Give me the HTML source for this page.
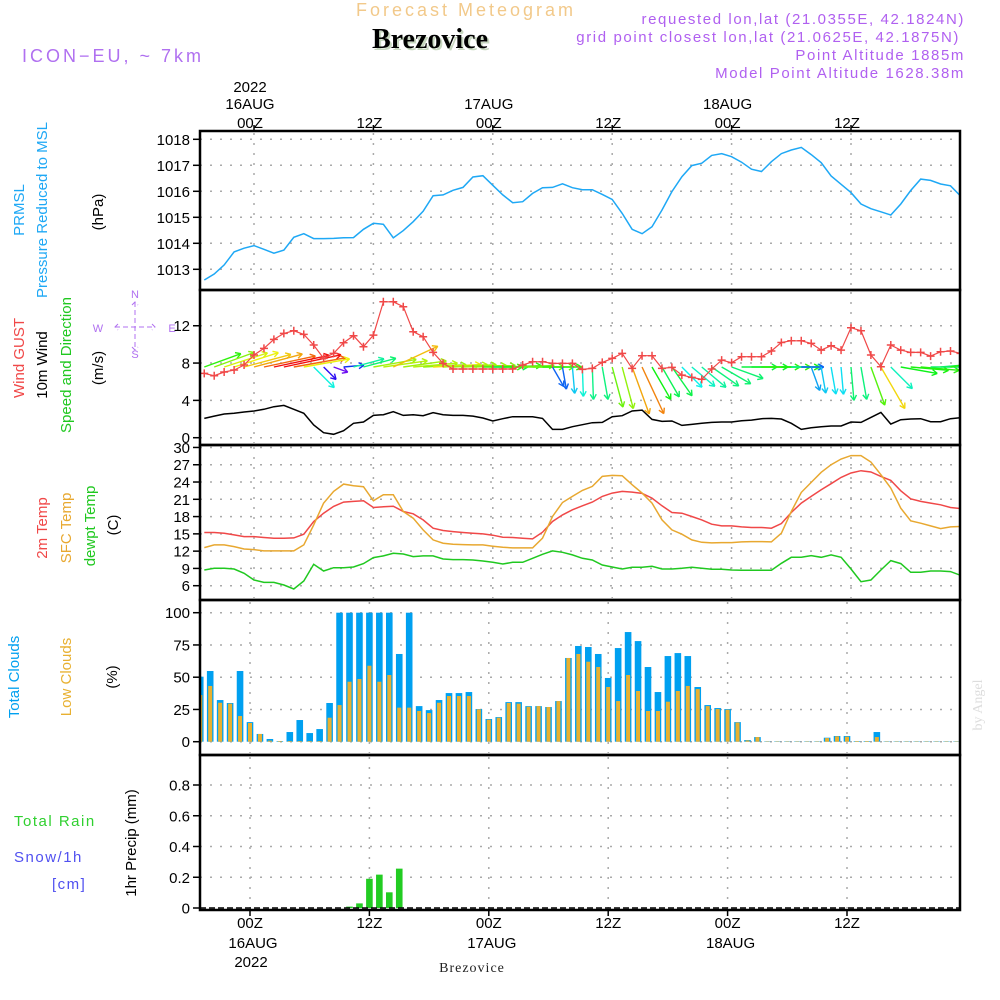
<!DOCTYPE html>
<html><head><meta charset="utf-8"><style>
html,body{margin:0;padding:0;background:#fff;}
svg{display:block;font-family:"Liberation Sans",sans-serif;}
</style></head><body>
<svg id="chart" width="1000" height="1000" viewBox="0 0 1000 1000" xmlns="http://www.w3.org/2000/svg">
<defs>
<clipPath id="c1"><rect x="200" y="131" width="760" height="159"/></clipPath>
<clipPath id="c2"><rect x="200" y="290" width="760" height="155"/></clipPath>
<clipPath id="c3"><rect x="200" y="445" width="760" height="155"/></clipPath>
<clipPath id="c4"><rect x="200" y="600" width="760" height="155"/></clipPath>
<clipPath id="c5"><rect x="200" y="755" width="760" height="155"/></clipPath>
</defs>
<g>
<text x="466" y="16" font-size="18" fill="#f2c98a" text-anchor="middle" letter-spacing="3">Forecast Meteogram</text>
<text x="432" y="50" font-size="28" font-weight="bold" font-family="Liberation Serif,serif" fill="#c8d8c0" text-anchor="middle">Brezovice</text>
<text x="430" y="48" font-size="28" font-weight="bold" font-family="Liberation Serif,serif" fill="#000" text-anchor="middle">Brezovice</text>
<text x="22" y="62" font-size="18" fill="#b070f0" letter-spacing="3">ICON−EU, ~ 7km</text>
<g font-size="15" fill="#b060f0" text-anchor="end" letter-spacing="1.6">
<text x="965" y="24">requested lon,lat (21.0355E, 42.1824N)</text>
<text x="960" y="42">grid point closest lon,lat (21.0625E, 42.1875N)</text>
<text x="965" y="60">Point Altitude 1885m</text>
<text x="965" y="78">Model Point Altitude 1628.38m</text>
</g>
</g>
<g id="grid"></g>
<g id="marks"></g>
<g id="frames"></g>
<g id="labels"></g>
</svg>
<script>
// ---- data (hourly from h=-5 to h=71, h=0 is 00Z 16AUG) ----
const hourStart = -5;
const pressure = [1012.59,1012.82,1013.17,1013.67,1013.81,1013.91,1013.77,1013.62,1013.74,1014.23,1014.37,1014.18,1014.18,1014.19,1014.21,1014.22,1014.54,1014.77,1014.73,1014.21,1014.49,1014.83,1015.23,1015.83,1015.86,1016.04,1016.15,1016.55,1016.60,1016.23,1015.86,1015.56,1015.60,1015.92,1016.14,1016.15,1016.29,1016.14,1016.06,1016.06,1015.88,1015.69,1015.15,1014.54,1014.37,1014.64,1015.28,1015.99,1016.56,1016.99,1017.08,1017.38,1017.45,1017.33,1017.12,1016.85,1016.76,1017.14,1017.45,1017.59,1017.69,1017.41,1017.10,1016.59,1016.27,1015.95,1015.51,1015.33,1015.21,1015.09,1015.51,1016.03,1016.47,1016.42,1016.28,1016.21,1015.82];
const wind10m = [2.07,2.32,2.54,2.61,2.75,2.86,3.04,3.32,3.46,3.04,2.61,1.36,0.54,0.36,0.75,1.54,1.68,2.39,2.46,2.79,2.39,2.46,2.36,2.68,2.46,2.39,2.39,2.32,2.11,1.79,2.04,2.25,2.25,2.25,2.07,0.89,0.89,1.18,1.39,1.61,1.64,2.25,2.36,2.86,2.96,1.96,1.75,1.79,1.32,1.43,1.54,1.64,1.68,1.68,1.82,1.89,2.04,2.07,2.0,1.54,0.89,1.07,1.18,1.25,1.25,1.68,1.64,2.18,2.71,1.46,1.93,2.0,2.04,1.71,1.71,2.04,2.14];
const windGust = [6.89,6.64,7.04,7.25,7.79,8.86,9.57,10.54,11.18,11.46,11.07,9.93,8.5,9.04,10.18,10.93,9.75,11.0,14.57,14.57,14.04,11.36,10.82,9.14,7.96,7.36,7.36,7.36,7.36,7.36,7.36,7.36,7.79,8.14,8.14,7.96,7.96,7.96,7.32,7.43,8.07,8.5,9.04,7.43,8.79,8.79,7.43,7.54,6.71,6.46,6.25,7.36,8.32,8.04,8.68,8.68,8.68,9.29,10.21,10.39,10.39,10.11,9.39,9.86,9.39,11.79,11.46,8.86,7.61,9.93,9.39,9.14,9.14,8.75,9.21,9.29,9.04];
const windDir = [20,20,18,18,15,15,12,12,12,10,10,-45,-45,-20,5,15,15,10,8,25,8,5,3,3,3,3,2,2,0,0,2,2,0,0,0,-60,-80,-85,-88,-88,-80,-75,-75,-70,-65,-60,-60,-55,-45,-40,-40,-35,-30,-20,0,0,0,0,0,0,0,-70,-80,-80,-85,-85,-80,-70,-60,-45,-10,-5,-5,0,5,10,15];
const temp2m = [15.23,15.23,15.11,14.82,14.53,14.53,14.36,14.24,14.24,14.3,14.94,17.14,18.59,19.76,20.51,20.63,20.74,19.58,19.7,19.81,18.88,18.48,17.43,15.98,15.58,15.4,15.23,15.11,15.0,14.76,14.42,14.36,14.24,14.13,15.29,17.14,18.3,19.17,19.87,20.51,21.5,22.08,22.37,22.25,22.02,21.21,19.87,18.71,18.59,18.01,17.43,16.68,16.39,16.39,16.21,16.1,16.1,15.98,16.8,18.71,20.34,21.5,22.66,23.7,24.8,25.56,25.97,25.74,24.98,24.28,22.48,21.09,20.63,20.34,20.05,19.58,19.41];
const tempSfc = [12.62,13.08,13.08,12.79,12.38,12.27,12.04,12.04,12.04,12.04,13.08,16.56,20.34,22.37,23.64,23.35,23.18,20.74,21.79,21.79,18.88,17.72,15.69,13.95,13.37,13.2,13.14,13.08,13.08,12.85,12.67,12.56,12.56,12.56,14.24,18.01,20.45,21.5,22.54,23.24,24.98,25.15,25.09,23.53,22.08,20.34,17.43,15.69,14.94,13.95,13.54,13.43,13.49,13.49,13.6,13.66,13.66,13.6,15.11,18.88,22.19,23.93,25.68,27.01,28.0,28.58,28.58,27.47,25.27,22.95,19.46,17.26,16.85,16.39,15.92,16.21,16.27];
const dewpt = [8.73,9.02,9.02,8.9,8.15,6.99,6.58,6.58,6.12,5.42,6.81,9.71,8.55,9.13,9.13,9.25,9.83,10.88,11.17,11.63,11.51,11.05,11.17,11.17,10.64,10.53,10.53,10.47,10.29,10.06,9.77,10.06,10.06,10.76,11.46,12.04,11.8,11.34,10.76,10.47,9.6,9.25,8.9,9.19,9.19,9.37,8.9,8.9,9.02,9.19,9.02,8.84,8.84,8.73,8.67,8.67,8.67,8.67,9.89,10.93,10.93,11.22,10.93,11.34,10.93,8.9,6.7,6.99,8.73,10.35,9.83,8.32,8.32,8.55,8.55,8.44,7.8];
const totalClouds = [50.4,54.8,32.3,30,54.8,15.2,6,2.1,0.5,7.5,16.8,6.7,9.8,30,100,100,100,100,100,100,68,100,27.6,24.5,32.3,37.7,37.7,38.5,25.3,17.6,19.1,30.7,30.7,27.6,27.6,26.9,31.5,64.9,74.2,73.4,68,49.4,72.6,85,78,57.9,38.5,66.4,68.7,66.4,42.4,28.4,26.1,25.3,15.2,1.3,3.6,0.3,0.3,0.3,0.3,0.3,0.3,3.1,4.4,4.4,0.5,0.5,7.5,0.3,0.3,0.3,0.3,0.3,0.3,0.3,0.3];
const lowClouds = [36.2,43.2,30.2,29.5,19.9,14.5,6,0.8,0.5,0.5,0.5,0.5,0.5,18.6,28.4,46.5,48.6,58.9,46.5,51.7,26.4,26.4,23.8,22.2,30.2,35.4,35.4,35.4,25.1,17.1,18.6,30,29.5,27.1,27.6,26.9,31.5,64.9,68,62,57.9,42.4,31.5,51.7,39.3,23.8,23.8,31,39.3,43.2,40.8,27.6,25.3,24.8,14.9,1,3.6,0.3,0.3,0.3,0.3,0.3,0.3,2.8,4.1,3.9,0.5,0.5,3.6,0.3,0.3,0.3,0.3,0.3,0.3,0.3,0.3];
const precipHours = [10,11,12,13,14,15];
const precipValues = [0.009,0.03,0.19,0.217,0.102,0.256];
const pressTicks = [1013,1014,1015,1016,1017,1018];
const windTicks = [0,4,8,12];
const tempTicks = [6,9,12,15,18,21,24,27,30];
const cloudTicks = [0,25,50,75,100];
const precipTicks = [0,0.2,0.4,0.6,0.8];
const timeTicks = [0,12,24,36,48,60];
const timeTickLabels = ["00Z","12Z","00Z","12Z","00Z","12Z"];
const dateLabels = {0:"16AUG",24:"17AUG",48:"18AUG"};

// ---- axes ----
const NS="http://www.w3.org/2000/svg";
const HPX = 119.4/12;
const xTop = h => 254 + h*HPX;
const xBot = h => 250 + h*HPX;
const yP = v => 139.3 - (v-1018)*26;
const yW = v => 437.7 - v*9.33;
const yT = v => 585.7 - (v-6)*5.76;
const yC = v => 741.7 - v*1.29;
const yR = v => 908 - v*153.75;
function mk(tag, attrs, parent){const e=document.createElementNS(NS,tag);for(const k in attrs)e.setAttribute(k,attrs[k]);(parent||document.getElementById('marks')).appendChild(e);return e;}
const G=document.getElementById('grid'), F=document.getElementById('frames'), L=document.getElementById('labels');
function poly(arr, xf, yf){return arr.map((v,i)=>xf(hourStart+i).toFixed(1)+','+yf(v).toFixed(1)).join(' ');}

// ---- grid & ticks ----
const panels=[
 {top:131,bot:290,ticks:pressTicks,yf:yP,xf:xTop,fmt:v=>String(v),name:'pressure'},
 {top:290,bot:445,ticks:windTicks,yf:yW,xf:xTop,fmt:v=>String(v),name:'wind'},
 {top:445,bot:600,ticks:tempTicks,yf:yT,xf:xTop,fmt:v=>String(v),name:'temp'},
 {top:600,bot:755,ticks:cloudTicks,yf:yC,xf:xBot,fmt:v=>String(v),name:'clouds'},
 {top:755,bot:910,ticks:precipTicks,yf:yR,xf:xBot,fmt:v=>v===0?'0':v.toFixed(1),name:'precip'}];
panels.forEach(p=>{
 p.ticks.forEach(t=>{
  const y=p.yf(t);
  if(t!==0 || p.name!=='precip'){
   const gl=mk('line',{x1:200,x2:960,y1:y,y2:y,stroke:'#aaa','stroke-width':1.5,'stroke-dasharray':'2,8'},G);
   
   
  }
  const tk=mk('line',{x1:193,x2:200,y1:y,y2:y,stroke:'#000','stroke-width':1.5},F);
  
  
  const tl=mk('text',{x:190,y:y+5.5,'font-size':15,'text-anchor':'end',fill:'#000'},L);
  tl.textContent=p.fmt(t);
  
  
 });
 timeTicks.forEach(h=>{
  const x=p.xf(h);
  const vl=mk('line',{x1:x,x2:x,y1:p.top+2,y2:p.bot-2,stroke:'#aaa','stroke-width':1.5,'stroke-dasharray':'2,8'},G);
  
  
 });
 const fr=mk('rect',{x:200,y:p.top,width:760,height:p.bot-p.top,fill:'none',stroke:'#000','stroke-width':2.5},F);
 
 
});
// top & bottom time axes
timeTicks.forEach((h,i)=>{
 const xt=xTop(h), xb=xBot(h);
 const t1=mk('line',{x1:xt,x2:xt,y1:125,y2:131,stroke:'#000','stroke-width':1.5},F);
 
 
 const l1=mk('text',{x:xt-4,y:128,'font-size':15,'text-anchor':'middle'},L);
 l1.textContent=timeTickLabels[i];
 
 
 const t2=mk('line',{x1:xb,x2:xb,y1:910,y2:916,stroke:'#000','stroke-width':1.5},F);
 
 
 const l2=mk('text',{x:xb,y:928,'font-size':15,'text-anchor':'middle'},L);
 l2.textContent=timeTickLabels[i];
 
 
 if(dateLabels[h]){
  const d1=mk('text',{x:xt-4,y:109,'font-size':15,'text-anchor':'middle'},L);
  d1.textContent=dateLabels[h];
  
  
  const d2=mk('text',{x:xb+3,y:948,'font-size':15,'text-anchor':'middle'},L);
  d2.textContent=dateLabels[h];
  
  
 }
});
const yr1=mk('text',{x:xTop(0)-4,y:92,'font-size':15,'text-anchor':'middle'},L);
yr1.textContent='2022';


const yr2=mk('text',{x:xBot(0)+1,y:967,'font-size':15,'text-anchor':'middle'},L);
yr2.textContent='2022';



// ---- pressure ----
const pl=mk('polyline',{points:poly(pressure,xTop,yP),fill:'none',stroke:'#1ea8f5','stroke-width':1.5,'clip-path':'url(#c1)'});



// ---- wind ----
function spdColor(s){let t=(s-0.3)/3.0;t=Math.max(0,Math.min(1,t));return 'hsl('+(270*(1-t)).toFixed(0)+',90%,50%)';}
const windG=mk('g',{'clip-path':'url(#c2)'});


wind10m.forEach((s,i)=>{
 const x=xTop(hourStart+i), y=367;
 const a=windDir[i]*Math.PI/180, len=10+14*s;
 const x2=x+len*Math.cos(a), y2=y-len*Math.sin(a);
 const c=spdColor(s);
 const g=mk('g',{stroke:c,'stroke-width':1.4,fill:'none'},windG);
 
 
 mk('line',{x1:x,y1:y,x2:x2,y2:y2},g);
 const hl=6;
 [150,-150].forEach(d=>{const b=a+d*Math.PI/180;mk('line',{x1:x2,y1:y2,x2:x2+hl*Math.cos(b),y2:y2-hl*Math.sin(b)},g);});
});
const wl=mk('polyline',{points:poly(wind10m,xTop,yW),fill:'none',stroke:'#000','stroke-width':1.5,'clip-path':'url(#c2)'});


const gl=mk('polyline',{points:poly(windGust,xTop,yW),fill:'none',stroke:'#f04848','stroke-width':1.2,'clip-path':'url(#c2)'});


windGust.forEach((v,i)=>{
 const x=xTop(hourStart+i), y=yW(v);
 const pm=mk('path',{d:`M${x-4},${y}h8M${x},${y-4}v8`,stroke:'#f04848','stroke-width':1.5,'clip-path':'url(#c2)'});
 
 
});

// ---- temperatures ----
[[temp2m,'#f04848','temp-2m-line'],[tempSfc,'#e8a830','temp-sfc-line'],[dewpt,'#20c820','dewpoint-line']].forEach(([arr,col,nm])=>{
 const l=mk('polyline',{points:poly(arr,xTop,yT),fill:'none',stroke:col,'stroke-width':1.5,'clip-path':'url(#c3)'});
 
 
});

// ---- clouds ----
totalClouds.forEach((v,i)=>{
 const x=xBot(hourStart+i);
 const b=mk('rect',{x:x-3.3,y:yC(v),width:6.6,height:yC(0)-yC(v),fill:'#00a0f0','clip-path':'url(#c4)'});
 
 
 const o=lowClouds[i];
 const b2=mk('rect',{x:x-2,y:yC(o),width:4,height:yC(0)-yC(o),fill:'#e8b030','clip-path':'url(#c4)'});
 
 
});

// ---- precip ----
precipValues.forEach((v,i)=>{
 const x=xBot(precipHours[i]);
 const b=mk('rect',{x:x-3.3,y:yR(v),width:6.6,height:yR(0)-yR(v),fill:'#22cc22','clip-path':'url(#c5)'});
 
 
});
const zl=mk('line',{x1:200,x2:960,y1:908,y2:908,stroke:'#000','stroke-width':1.5,'stroke-dasharray':'6,3'});



// ---- axis titles ----
function vtext(txt,x,y,col,nm,size){
 const t=mk('text',{x:0,y:0,transform:`translate(${x},${y}) rotate(-90)`,'font-size':size||15,'text-anchor':'middle',fill:col},L);
 t.textContent=txt;
 
 
}
vtext('PRMSL',24,210,'#1ea8f5','prmsl-title');
vtext('Pressure Reduced to MSL',47,210,'#1ea8f5','pressure-title');
vtext('(hPa)',103,212,'#000','pressure-unit');
vtext('Wind GUST',24,358,'#f04848','gust-title');
vtext('10m Wind',47,365,'#000','wind-title');
vtext('Speed and Direction',71,365,'#20c820','wind-dir-title');
vtext('(m/s)',103,368,'#000','wind-unit');
vtext('2m Temp',47,528,'#f04848','temp-2m-title');
vtext('SFC Temp',71,528,'#e8a830','temp-sfc-title');
vtext('dewpt Temp',95,526,'#20c820','dewpt-title');
vtext('(C)',118,525,'#000','temp-unit');
vtext('Total Clouds',19,677,'#00a0f0','total-clouds-title');
vtext('Low Clouds',71,677,'#e8b030','low-clouds-title');
vtext('(%)',117,677,'#000','clouds-unit');
vtext('1hr Precip (mm)',136,843,'#000','precip-title');
const ang=mk('text',{x:0,y:0,transform:'translate(982,705) rotate(-90)','font-size':14,'text-anchor':'middle',fill:'#ddd','font-family':'Liberation Serif,serif'},L);
ang.textContent='by Angel';


[['Total   Rain',14,826,'#30d030','rain-legend'],['Snow/1h',14,862,'#5050f0','snow-legend'],['[cm]',52,889,'#5050f0','snow-unit']].forEach(([t,x,y,c,n])=>{
 const e=mk('text',{x:x,y:y,'font-size':15,fill:c,'letter-spacing':1.5,'xml:space':'preserve'},L);
 e.textContent=t;
 
 
});
const bl=mk('text',{x:472,y:972,'font-size':14,'text-anchor':'middle','font-family':'Liberation Serif,serif',fill:'#222','letter-spacing':1},L);
bl.textContent='Brezovice';


// compass
const cg=mk('g',{stroke:'#b070f0','stroke-width':1,fill:'none'},L);


mk('path',{d:'M115,327h40M135,302v48M118,324l-3,3l3,3M152,324l3,3l-3,3M132,305l3,-3l3,3M132,347l3,3l3,-3','stroke-dasharray':'5,3'},cg);
[['N',135,298],['S',135,358],['W',98,332],['E',172,332]].forEach(([t,x,y])=>{
 const e=mk('text',{x:x,y:y,'font-size':11,fill:'#b070f0',stroke:'none','text-anchor':'middle'},cg);
 e.textContent=t;
 
 
});
</script>
</body></html>
